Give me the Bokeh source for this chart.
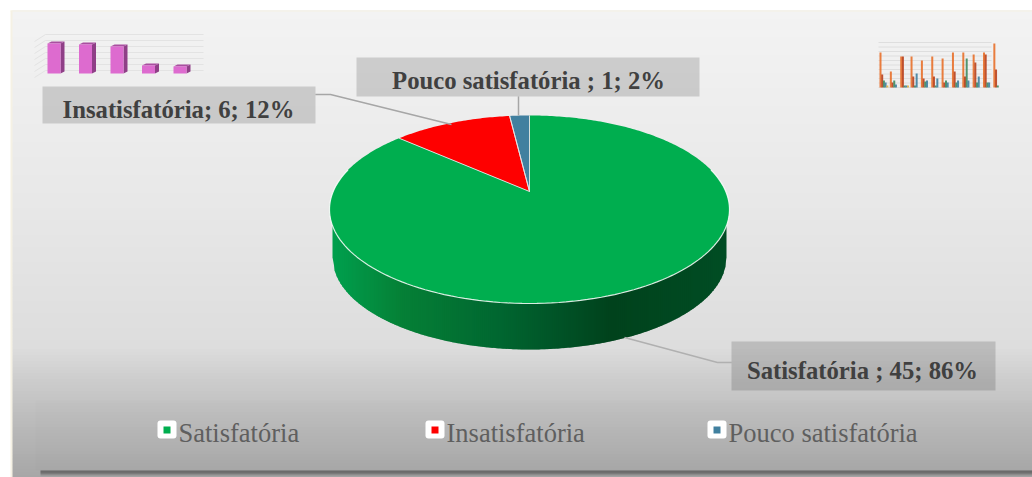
import math
from bokeh.plotting import figure
from bokeh.models import Range1d
from bokeh.core.properties import value
from bokeh.embed import file_html
from bokeh.resources import INLINE

categories = ["Satisfatória", "Insatisfatória", "Pouco satisfatória"]
label_names = ["Satisfatória ", "Insatisfatória", "Pouco satisfatória "]
values = [45, 6, 1]
percents = [86, 12, 2]
colors = ["#00ae4f", "#fe0000", "#41809f"]

mini_pink = [30, 29, 27, 8, 7]
mini_orange = [35, 16, 31, 31, 27, 31, 29, 35, 35, 33, 35, 44]
mini_red = [13, 5, 31, 11, 9, 11, 5, 16, 11, 25, 33, 18]
mini_green = [7, 7, 2, 2, 6, 2, 7, 5, 29, 5, 5, 2]
mini_blue = [5, 3, 2, 14, 7, 9, 5, 7, 7, 11, 5, 0]
mini_yellow = [2, 0, 2, 0, 0, 0, 0, 0, 0, 0, 0, 0]

SERIF = "Liberation Serif"

p = figure(width=1032, height=477, output_backend="svg", toolbar_location=None,
           x_range=Range1d(0, 1032), y_range=Range1d(477, 0),
           min_border=0, outline_line_color=None, background_fill_color="#ffffff",
           border_fill_color="#ffffff")
p.axis.visible = False
p.grid.visible = False


def lerp_stops(stops, t):
    if t <= stops[0][0]:
        return "#%02x%02x%02x" % stops[0][1]
    for (a, ca), (b, cb) in zip(stops, stops[1:]):
        if t <= b:
            f = (t - a) / (b - a)
            return "#%02x%02x%02x" % tuple(round(x + (y - x) * f) for x, y in zip(ca, cb))
    return "#%02x%02x%02x" % stops[-1][1]


# card background
bg = [(10, (243, 243, 243)), (200, (232, 232, 232)), (345, (221, 221, 221)),
      (380, (204, 204, 204)), (420, (187, 187, 187)), (477, (166, 166, 166))]
ys = list(range(10, 477, 3))
p.quad(left=12, right=1032, top=ys, bottom=[y + 3 for y in ys],
       fill_color=[lerp_stops(bg, y) for y in ys], line_color=[lerp_stops(bg, y) for y in ys], line_width=1)
p.quad(left=[10, 10], right=[12, 1032], top=[10, 10], bottom=[477, 11],
       fill_color="#f5f1e4", line_color=None)
p.quad(left=35, right=1032, top=400, bottom=470, fill_color="#000000", fill_alpha=0.008, line_color=None)
for y0, a in [(470, 0.42), (471, 0.40), (472, 0.34), (473, 0.24), (474, 0.12), (475, 0.05)]:
    p.quad(left=40, right=1032, top=y0, bottom=y0 + 1, fill_color="#000000", fill_alpha=a, line_color=None)

# mini chart, top left
for i in range(7):
    y = 34 + i * 6
    p.line([34, 45, 203], [y + 7, y, y], line_color="#e3e3e3", line_width=1)
base = 73
for i, h in enumerate(mini_pink):
    x0 = 47 + i * 31.5
    top = base - h
    p.patch([x0 + 13, x0 + 17, x0 + 17, x0 + 13], [top, top - 2, base - 2, base], fill_color="#8f3f87", line_color=None)
    p.patch([x0, x0 + 4, x0 + 17, x0 + 13], [top, top - 2, top - 2, top], fill_color="#a94fa0", line_color=None)
    p.quad(left=x0, right=x0 + 13, top=top, bottom=base, fill_color="#dd6bcf", line_color=None)

# mini chart, top right
for i in range(11):
    y = 42 + i * 4.5
    p.line([878, 991], [y, y], line_color="#dedede", line_width=1)
series = [(mini_orange, "#e8702a", 0), (mini_red, "#b8401c", 2), (mini_green, "#3f8a5f", 4),
          (mini_blue, "#3f7f9f", 6), (mini_yellow, "#e0b040", 8)]
for vals, col, off in series:
    p.quad(left=[879 + 10.35 * i + off * 0.85 for i in range(12)],
           right=[879 + 10.35 * i + off * 0.85 + 2 for i in range(12)],
           top=[87 - v for v in vals], bottom=87, fill_color=col, fill_alpha=0.9, line_color=None)

# pie geometry: a disc seen in perspective
CX, APEX, A, C, K = 529, 191, -53.98, 0.1915, 196.3


def rim(theta):
    u, v = math.sin(theta), math.cos(theta)
    d = C * v + 1
    return CX + K * u / d, (A * v + APEX) / d


# side wall
wall = [(330, (0, 160, 78)), (400, (5, 128, 54)), (500, (0, 102, 48)), (560, (0, 82, 38)),
        (610, (0, 66, 28)), (727, (0, 77, 36))]


def wall_bottom(x):
    return 257 + 92 * math.sqrt(max(0, 1 - ((x - CX) / 197) ** 2))


def wall_top(x):
    return 205 + 94 * math.sqrt(max(0, 1 - ((x - CX) / 200) ** 2))


xs = [332 + i * 2 for i in range(197)]
wc = [lerp_stops(wall, x) for x in xs]
p.patches([[x, min(x + 3, 726), min(x + 3, 726), x] for x in xs],
          [[wall_top(x), wall_top(min(x + 3, 726)), wall_bottom(min(x + 3, 726)), wall_bottom(x)] for x in xs],
          fill_color=wc, line_color=None)

# slices, clockwise from the top, going backwards through the values
total = sum(values)
end = 0.0
spans = []
for idx in [2, 1, 0]:
    start = end - 2 * math.pi * values[idx] / total
    n = max(8, int(values[idx] * 8))
    pts = [rim(end + (start - end) * j / n) for j in range(n + 1)]
    spans.append((idx, start, end))
    p.patch([CX] + [a for a, _ in pts], [APEX] + [b for _, b in pts], fill_color=colors[idx], line_color=None)
    end = start
for idx, s, e in spans:
    pts = [rim(s), (CX, APEX), rim(e)]
    if idx != 0:
        p.line([a for a, _ in pts], [b for _, b in pts], line_color="#e4e4e4", line_width=1, line_alpha=0.9)
lower = [rim(math.pi * (0.42 + 1.16 * j / 120)) for j in range(121)]
p.line([a for a, _ in lower], [b for _, b in lower], line_color="#ffffff", line_width=1.2, line_alpha=0.85)

# leader lines
p.line([518, 518], [96, 115], line_color="#a6a6a6", line_width=1.5)
p.line([315, 330, 451], [94, 94, 124], line_color="#a6a6a6", line_width=1.5)
p.line([731, 717, 624], [362, 362, 337], line_color="#b0b0b0", line_width=1.5)

# data labels
boxes = [(731, 995, 341, 390, 862, 370), (42, 315, 86, 123, 178, 109), (356, 699, 57, 96, 528, 80)]
for i, (l, r, t, b, tx, ty) in enumerate(boxes):
    p.quad(left=l, right=r, top=t, bottom=b, fill_color="#000000", fill_alpha=0.15, line_color=None)
    p.text([tx], [ty], text=[f"{label_names[i]}; {values[i]}; {percents[i]}%"],
           text_font=value(SERIF), text_font_style="bold", text_font_size="24.7px",
           text_color="#404040", text_align="center", text_baseline="alphabetic")

# legend
key_x = [157, 425, 707]
text_x = [178, 446, 728]
for i, cat in enumerate(categories):
    p.quad(left=key_x[i], right=key_x[i] + 19, top=420, bottom=438, fill_color="#ffffff", line_color=None,
           border_radius=3)
    p.quad(left=key_x[i] + 6, right=key_x[i] + 13, top=426, bottom=433, fill_color=colors[i], line_color=None)
    p.text([text_x[i]], [432], text=[cat], text_font=value(SERIF), text_font_size="26.5px",
           text_color="#5f5f5f", text_align="left", text_baseline="alphabetic")

open("out.html", "w").write(file_html(p, INLINE))
